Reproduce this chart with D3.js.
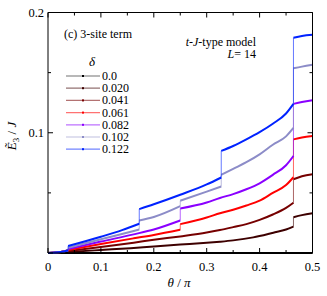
<!DOCTYPE html>
<html><head><meta charset="utf-8">
<script src="https://cdn.jsdelivr.net/npm/d3@7"></script>
<style>body{margin:0;background:#fff;}</style>
</head><body>
<svg id="c" width="327" height="296" font-family="'Liberation Serif','Times New Roman','DejaVu Serif',serif"></svg>
<script>
// ---- data ----
const deltas = ["0.0","0.020","0.041","0.061","0.082","0.102","0.122"];
const xTicks = [0,0.1,0.2,0.3,0.4,0.5];
const yTicks = [0.1,0.2];
// shared small-theta part
const pre = [[0,0],[0.01,0.0002],[0.02,0.0006],[0.03,0.0013],[0.038,0.002]];
const s000 = [[[0,0],[0.5,0]]];
const s020 = [pre,
  [[0.038,0.0008],[0.1,0.0025],[0.156,0.004],[0.2,0.0055],[0.25,0.007],[0.3,0.0085],[0.325,0.0094],[0.35,0.0105],[0.388,0.013],[0.426,0.0169],[0.45,0.0195],[0.464,0.0219]],
  [[0.464,0.0297],[0.48,0.0315],[0.5,0.033]]];
const s041 = [pre,
  [[0.038,0.0017],[0.1,0.005],[0.162,0.0086],[0.2,0.011],[0.25,0.0138],[0.3,0.017],[0.325,0.0191],[0.35,0.0215],[0.375,0.024],[0.4,0.0275],[0.425,0.032],[0.45,0.0375],[0.464,0.0418]],
  [[0.464,0.0613],[0.48,0.0638],[0.5,0.0654]]];
const s061 = [pre,
  [[0.038,0.0025],[0.1,0.0075],[0.162,0.0122],[0.2,0.015],[0.25,0.0193]],
  [[0.25,0.024],[0.3,0.0295],[0.325,0.033],[0.35,0.036],[0.375,0.0395],[0.4,0.0435],[0.425,0.050],[0.45,0.0565],[0.464,0.063]],
  [[0.464,0.0945],[0.48,0.096],[0.5,0.0973]]];
const s082 = [pre,
  [[0.038,0.0033],[0.1,0.0095],[0.162,0.0155],[0.2,0.0195],[0.25,0.027]],
  [[0.25,0.037],[0.3,0.042],[0.325,0.0458],[0.35,0.049],[0.375,0.053],[0.4,0.058],[0.425,0.065],[0.45,0.073],[0.464,0.0807]],
  [[0.464,0.124],[0.48,0.1255],[0.5,0.127]]];
const s102 = [pre,
  [[0.038,0.0044],[0.1,0.0115],[0.162,0.0183],[0.1725,0.0195]],
  [[0.1725,0.0271],[0.2,0.030],[0.25,0.039]],
  [[0.25,0.0435],[0.3,0.051],[0.3275,0.0553]],
  [[0.3275,0.065],[0.35,0.070],[0.375,0.0755],[0.4,0.082],[0.425,0.090],[0.45,0.097],[0.464,0.104]],
  [[0.464,0.1536],[0.48,0.155],[0.5,0.1565]]];
const s122 = [pre,
  [[0.038,0.0058],[0.1,0.0135],[0.14,0.019],[0.1725,0.0243]],
  [[0.1725,0.0365],[0.2,0.0405],[0.25,0.0484],[0.3,0.057],[0.3275,0.0628]],
  [[0.3275,0.0849],[0.35,0.089],[0.375,0.0945],[0.4,0.1005],[0.425,0.1075],[0.45,0.116],[0.464,0.124]],
  [[0.464,0.179],[0.48,0.1805],[0.5,0.1815]]];
const seriesData = [s000,s020,s041,s061,s082,s102,s122];
const colors = ["#000000","#3d0000","#760000","#ff0000","#8a00ff","#8c8cc8","#0022ff"];

// ---- chart ----
const svg = d3.select("#c");
const L=48, R=312.5, T=12.5, B=253;
const x = d3.scaleLinear().domain([0,0.5]).range([L,R]);
const y = d3.scaleLinear().domain([0,0.2]).range([B,T]);
const line = d3.line().x(d=>x(d[0])).y(d=>y(d[1])).curve(d3.curveMonotoneX);

const g = svg.append("g");
seriesData.forEach((segs,i)=>{
  const c = colors[i];
  for(let k=0;k<segs.length-1;k++){
    const a = segs[k][segs[k].length-1], b = segs[k+1][0];
    g.append("line").attr("x1",x(a[0])).attr("y1",y(a[1])).attr("x2",x(b[0])).attr("y2",y(b[1]))
      .attr("stroke",c).attr("stroke-width",1).attr("opacity",0.6);
  }
  segs.forEach(seg=>{
    g.append("path").attr("d",line(seg)).attr("fill","none").attr("stroke",c).attr("stroke-width",2);
  });
});

// frame
[[L,L,T,B],[R,R,T,B],[L,R,T,T],[L,R,B,B]].forEach(p=>{
  svg.append("line").attr("x1",p[0]).attr("x2",p[1]).attr("y1",p[2]).attr("y2",p[3]).attr("stroke","#000").attr("stroke-width",1);
});

// ticks (inward, all sides)
const xt = d3.range(0,0.5001,0.05), yt = d3.range(0,0.2001,0.05);
xt.forEach(v=>{
  const major = Math.abs(Math.round(v*10)-v*10)<1e-6, len = major?5:3;
  svg.append("line").attr("x1",x(v)).attr("x2",x(v)).attr("y1",B).attr("y2",B-len).attr("stroke","#000");
  svg.append("line").attr("x1",x(v)).attr("x2",x(v)).attr("y1",T).attr("y2",T+len).attr("stroke","#000");
});
yt.forEach(v=>{
  const major = Math.abs(Math.round(v*10)-v*10)<1e-6, len = major?5:3;
  svg.append("line").attr("y1",y(v)).attr("y2",y(v)).attr("x1",L).attr("x2",L+len).attr("stroke","#000");
  svg.append("line").attr("y1",y(v)).attr("y2",y(v)).attr("x1",R).attr("x2",R-len).attr("stroke","#000");
});
xTicks.forEach(v=>{
  svg.append("text").attr("x",x(v)).attr("y",271).attr("text-anchor","middle").attr("font-size",12.5).text(v===0?"0":v.toFixed(1));
});
yTicks.forEach(v=>{
  svg.append("text").attr("x",L-4).attr("y",y(v)+4.5).attr("text-anchor","end").attr("font-size",12.5).text(v.toFixed(1));
});

// axis labels
svg.append("text").attr("x",179).attr("y",287).attr("text-anchor","middle").attr("font-size",13)
  .html('<tspan font-style="italic">θ</tspan> / <tspan font-style="italic">π</tspan>');
svg.append("text").attr("transform","translate(16,136) rotate(-90)").attr("text-anchor","middle").attr("font-size",13)
  .html('<tspan font-style="italic">Ẽ</tspan><tspan font-size="9" dy="3">3</tspan><tspan dy="-3"> / </tspan><tspan font-style="italic">J</tspan>');

// annotations
svg.append("text").attr("x",64).attr("y",37.5).attr("font-size",12).text("(c) 3-site term");
svg.append("text").attr("x",256).attr("y",46).attr("text-anchor","end").attr("font-size",12)
  .html('<tspan font-style="italic">t</tspan>-<tspan font-style="italic">J</tspan>-type model');
svg.append("text").attr("x",256).attr("y",58).attr("text-anchor","end").attr("font-size",12)
  .html('<tspan font-style="italic">L</tspan>= 14');

// legend
svg.append("text").attr("x",92).attr("y",66).attr("text-anchor","middle").attr("font-size",13).attr("font-style","italic").text("δ");
deltas.forEach((d,i)=>{
  const yy = 76 + i*12.2;
  svg.append("line").attr("x1",66).attr("x2",100).attr("y1",yy).attr("y2",yy).attr("stroke",colors[i]).attr("stroke-width",1.2).attr("opacity",0.55);
  svg.append("rect").attr("x",82).attr("y",yy-1).attr("width",2).attr("height",2).attr("fill",colors[i]);
  svg.append("text").attr("x",102).attr("y",yy+4).attr("font-size",12).text(d);
});
</script>
</body></html>
